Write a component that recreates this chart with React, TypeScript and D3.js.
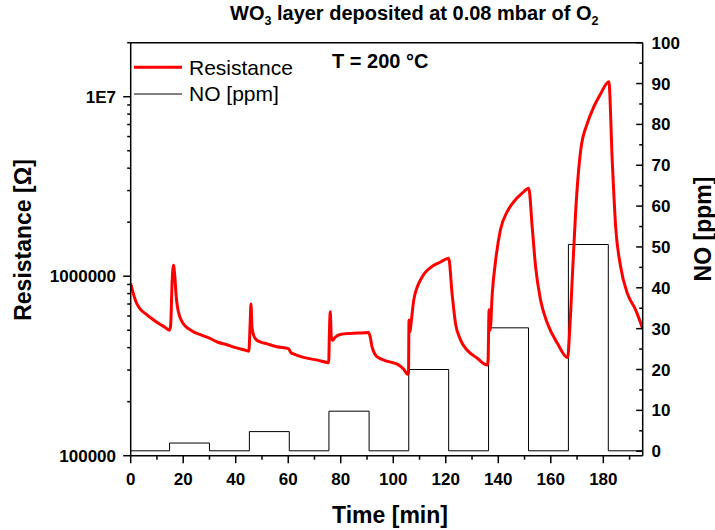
import React from "react";
import * as d3 from "d3";

// ---------- data ----------
const timeTicks = [0, 20, 40, 60, 80, 100, 120, 140, 160, 180];
const timeMinorTicks = [10, 30, 50, 70, 90, 110, 130, 150, 170, 190];
const resTicks = [1e5, 1e6, 1e7];
const resTickLabels = ["100000", "1000000", "1E7"];
const noTicks = [0, 10, 20, 30, 40, 50, 60, 70, 80, 90, 100];
const noMinorTicks = [5, 15, 25, 35, 45, 55, 65, 75, 85, 95];

// Resistance (ohm) vs time (min)
const resTime = [
  0, 1, 2, 3.5, 5.5, 7.4, 9.5, 11.2, 13, 14.7,
  15.2, 15.8, 16.3, 16.8, 17.3, 17.8, 18.8, 20, 22, 23.9,
  27, 30.2, 33, 36.6, 40, 44.2, 45.0, 45.5, 45.8, 46.2,
  46.8, 48, 49.3, 51.9, 55.7, 60.1, 61, 62, 65.8, 70.9,
  74.8, 75.4, 75.7, 76.0, 76.4, 76.9, 77.9, 79.8, 83.6, 88,
  90.6, 91.2, 91.9, 93.2, 94.6, 96.4, 99, 101.5, 104, 105.5,
  105.8, 106.0, 106.4, 106.8, 107.8, 109, 110.3, 112.2, 115, 118,
  121.1, 122.4, 123.7, 125.6, 128.1, 132, 135.8, 136.1, 136.5, 136.9,
  137.7, 139, 140.8, 143.4, 145.9, 149.1, 151.6, 152.9, 154.2, 156.1,
  158.7, 162.5, 166.4, 167.2, 168.2, 169.5, 171.4, 173.9, 176.4, 179,
  182.1, 183.4, 184.7, 186.6, 189.2, 192.3, 195,
];
const resValue = [
  9.1e5, 8.0e5, 7.2e5, 6.6e5, 6.2e5, 5.9e5, 5.6e5, 5.4e5, 5.2e5, 5.0e5,
  5.3e5, 9.5e5, 1.15e6, 1.0e6, 7.8e5, 6.75e5, 5.9e5, 5.45e5, 5.1e5, 4.9e5,
  4.7e5, 4.5e5, 4.3e5, 4.15e5, 4.0e5, 3.85e5, 3.82e5, 5.5e5, 7.0e5, 5.2e5,
  4.7e5, 4.4e5, 4.31e5, 4.2e5, 4.05e5, 3.95e5, 3.75e5, 3.69e5, 3.53e5, 3.41e5,
  3.31e5, 3.3e5, 5.0e5, 6.34e5, 4.6e5, 4.4e5, 4.57e5, 4.74e5, 4.8e5, 4.83e5,
  4.85e5, 4.6e5, 4.05e5, 3.64e5, 3.5e5, 3.41e5, 3.32e5, 3.24e5, 3.03e5, 2.84e5,
  2.9e5, 5.7e5, 4.9e5, 5.5e5, 7.36e5, 8.6e5, 9.5e5, 1.05e6, 1.14e6, 1.2e6,
  1.26e6, 8.0e5, 5.47e5, 4.42e5, 3.88e5, 3.49e5, 3.2e5, 3.4e5, 6.5e5, 5.0e5,
  8.0e5, 1.23e6, 1.81e6, 2.29e6, 2.6e6, 2.9e6, 3.09e6, 1.89e6, 1.13e6, 7.37e5,
  5.47e5, 4.23e5, 3.52e5, 5.0e5, 9.9e5, 2.34e6, 5.05e6, 7.1e6, 8.8e6, 1.04e7,
  1.21e7, 4.4e6, 1.89e6, 1.13e6, 8.0e5, 6.5e5, 5.1e5,
];

// NO concentration pulses (ppm)
const pulseStart = [14.8, 45.2, 75.5, 105.9, 136.3, 166.7];
const pulseEnd = [30.0, 60.4, 90.8, 121.1, 151.5, 181.9];
const pulseLevel = [2, 4.8, 9.8, 20, 30.2, 50.6];
const noBaseline = 0.1;
const timeEnd = 195;

// ---------- layout ----------
const W = 715;
const H = 530;
const X0 = 130.7;
const X1 = 642.7;
const YT = 42.7;
const YB = 455.7;
const FONT = "'Liberation Sans', Arial, Helvetica, sans-serif";

export default function App() {
  const x = d3.scaleLinear().domain([0, 195]).range([X0, X1]);
  const yR = d3.scaleLog().domain([1e5, 2e7]).range([YB, YT]);
  const yN = d3.scaleLinear().domain([-1.1, 100]).range([YB, YT]);

  const resPts: [number, number][] = resTime.map((t, i) => [t, resValue[i]]);
  const resLine = d3
    .line<[number, number]>()
    .x((d) => x(d[0]))
    .y((d) => yR(d[1]))
    .curve(d3.curveMonotoneX);

  const noPts: [number, number][] = [[0, noBaseline]];
  pulseStart.forEach((s, i) => {
    noPts.push([s, noBaseline]);
    noPts.push([s, pulseLevel[i]]);
    noPts.push([pulseEnd[i], pulseLevel[i]]);
    noPts.push([pulseEnd[i], noBaseline]);
  });
  noPts.push([timeEnd, noBaseline]);
  const noLine = d3
    .line<[number, number]>()
    .x((d) => x(d[0]))
    .y((d) => yN(d[1]));

  const resMinor: number[] = [];
  [1e5, 1e6, 1e7].forEach((dec) => {
    for (let k = 2; k <= 9; k++) {
      const v = dec * k;
      if (v <= 2e7) resMinor.push(v);
    }
  });

  const tickFont = 17;

  return (
    <svg
      width={W}
      height={H}
      style={{ position: "absolute", left: 0, top: 0, background: "#fff" }}
      fontFamily={FONT}
    >
      <rect x={0} y={0} width={W} height={H} fill="#fff" />
      <defs>
        <clipPath id="plotclip">
          <rect x={X0} y={YT} width={X1 - X0} height={YB - YT} />
        </clipPath>
      </defs>

      {/* title */}
      <text x={230} y={20} fontSize={20} fontWeight="bold" fill="#000">
        WO
        <tspan fontSize={12.5} dy={5}>3</tspan>
        <tspan dy={-5}> layer deposited at 0.08 mbar of O</tspan>
        <tspan fontSize={12.5} dy={5}>2</tspan>
      </text>

      {/* data */}
      <g clipPath="url(#plotclip)">
        <path d={noLine(noPts) || ""} fill="none" stroke="#000" strokeWidth={1} />
        <path
          d={resLine(resPts) || ""}
          fill="none"
          stroke="#ff0000"
          strokeWidth={3}
          strokeLinejoin="round"
        />
      </g>

      {/* frame */}
      <g stroke="#000" strokeWidth={1.5} fill="none">
        <line x1={X0} y1={YT} x2={X1} y2={YT} />
        <line x1={X0} y1={YT} x2={X0} y2={YB} />
        <line x1={X1} y1={YT} x2={X1} y2={YB} />
        <line x1={X0} y1={YB} x2={X1} y2={YB} />
      </g>

      {/* bottom axis */}
      <g stroke="#000" strokeWidth={1.5}>
        {timeTicks.map((t) => (
          <line key={"bt" + t} x1={x(t)} x2={x(t)} y1={YB} y2={YB + 7.5} />
        ))}
        {timeMinorTicks.map((t) => (
          <line key={"bm" + t} x1={x(t)} x2={x(t)} y1={YB} y2={YB + 4} />
        ))}
      </g>
      {timeTicks.map((t) => (
        <text
          key={"bl" + t}
          x={x(t)}
          y={485}
          textAnchor="middle"
          fontSize={tickFont}
          fontWeight="bold"
        >
          {t}
        </text>
      ))}

      {/* left axis */}
      <g stroke="#000" strokeWidth={1.5}>
        {resTicks.map((v) => (
          <line key={"lt" + v} x1={X0 - 7.5} x2={X0} y1={yR(v)} y2={yR(v)} />
        ))}
        {resMinor.map((v) => (
          <line key={"lm" + v} x1={X0 - 3.5} x2={X0} y1={yR(v)} y2={yR(v)} />
        ))}
      </g>
      {resTicks.map((v, i) => (
        <text
          key={"ll" + v}
          x={116}
          y={yR(v) + 6}
          textAnchor="end"
          fontSize={tickFont}
          fontWeight="bold"
        >
          {resTickLabels[i]}
        </text>
      ))}

      {/* right axis (ticks inward) */}
      <g stroke="#000" strokeWidth={1.5}>
        {noTicks.map((v) => (
          <line key={"rt" + v} x1={X1 - 6.5} x2={X1} y1={yN(v)} y2={yN(v)} />
        ))}
        {noMinorTicks.map((v) => (
          <line key={"rm" + v} x1={X1 - 3.5} x2={X1} y1={yN(v)} y2={yN(v)} />
        ))}
      </g>
      {noTicks.map((v) => (
        <text
          key={"rl" + v}
          x={651.5}
          y={yN(v) + 6}
          textAnchor="start"
          fontSize={tickFont}
          fontWeight="bold"
        >
          {v}
        </text>
      ))}

      {/* axis titles */}
      <text x={390} y={523} textAnchor="middle" fontSize={23} fontWeight="bold">
        Time [min]
      </text>
      <text
        transform={`translate(31,240) rotate(-90)`}
        textAnchor="middle"
        fontSize={23}
        fontWeight="bold"
      >
        Resistance [Ω]
      </text>
      <text
        transform={`translate(711,229) rotate(-90)`}
        textAnchor="middle"
        fontSize={23}
        fontWeight="bold"
      >
        NO [ppm]
      </text>

      {/* legend */}
      <line x1={134} x2={182} y1={67.3} y2={67.3} stroke="#ff0000" strokeWidth={3} />
      <text x={189} y={75} fontSize={21}>
        Resistance
      </text>
      <line x1={134} x2={182} y1={94} y2={94} stroke="#000" strokeWidth={1} />
      <text x={189} y={100.5} fontSize={21}>
        NO [ppm]
      </text>

      {/* annotation */}
      <text x={332} y={67.7} fontSize={20} fontWeight="bold">
        T = 200 °C
      </text>
    </svg>
  );
}
